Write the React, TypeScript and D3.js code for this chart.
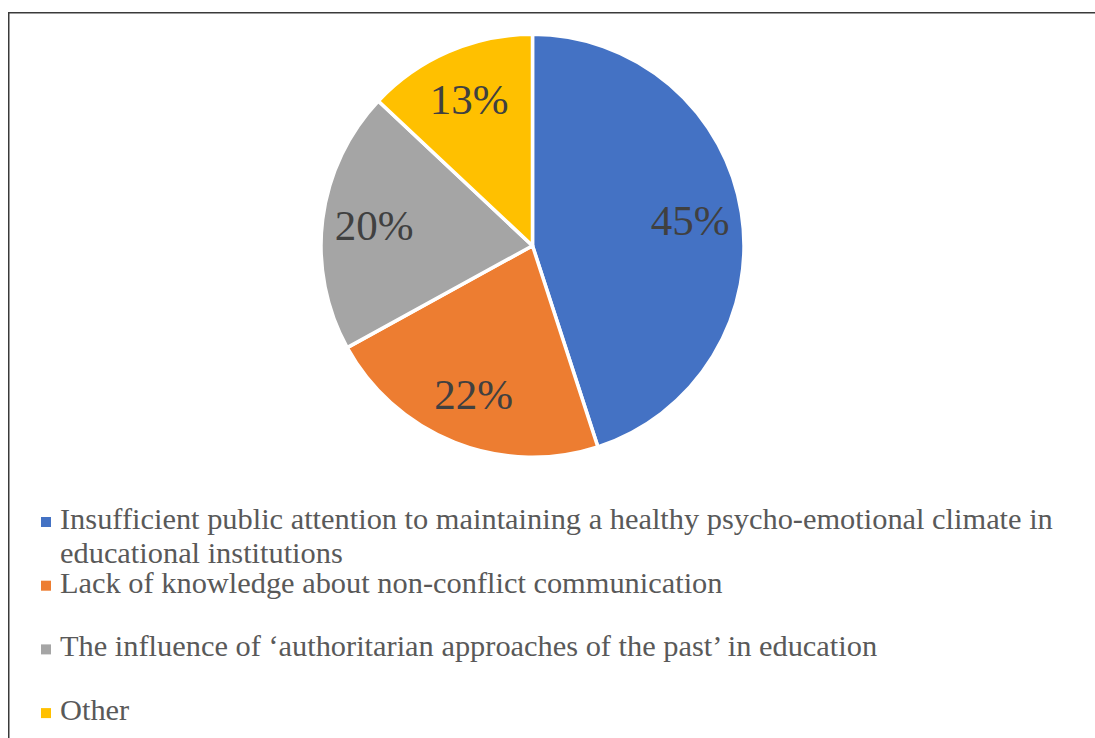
import React from "react";
import * as d3 from "d3";

const categories = [
  "Insufficient public attention to maintaining a healthy psycho-emotional climate in educational institutions",
  "Lack of knowledge about non-conflict communication",
  "The influence of ‘authoritarian approaches of the past’ in education",
  "Other",
];
const values = [45, 22, 20, 13];
const colors = ["#4472C4", "#ED7D31", "#A5A5A5", "#FFC000"];

const W = 1095;
const H = 738;
const cx = 532.5;
const cy = 245.75;
const R = 211.5;
const FONT = "Times New Roman, Liberation Serif, Tinos, serif";
const legendFont = 30.4;
const legendMaxW = 1020;

function wrap(text: string, size: number, maxW: number): string[] {
  const canvas = document.createElement("canvas");
  const ctx = canvas.getContext("2d")!;
  ctx.font = `${size}px "Liberation Serif", serif`;
  const words = text.split(" ");
  const lines: string[] = [];
  let cur = "";
  for (const w of words) {
    const t = cur ? cur + " " + w : w;
    if (ctx.measureText(t).width > maxW && cur) {
      lines.push(cur);
      cur = w;
    } else cur = t;
  }
  if (cur) lines.push(cur);
  return lines;
}

export default function App() {
  const pie = d3.pie<number>().sort(null).value((d) => d);
  const arcs = pie(values);
  const arc = d3.arc<d3.PieArcDatum<number>>().innerRadius(0).outerRadius(R);
  const labelArc = d3
    .arc<d3.PieArcDatum<number>>()
    .innerRadius(R * 0.755)
    .outerRadius(R * 0.755);
  const total = d3.sum(values);

  const legendY0 = 529;
  const entryStep = 63.7;
  const lineStep = 33.5;

  return (
    <svg
      width={W}
      height={H}
      style={{ position: "absolute", left: 0, top: 0, background: "#fff" }}
    >
      <rect x={0} y={0} width={W} height={H} fill="#fff" />
      <rect
        x={8.75}
        y={12.75}
        width={W + 20}
        height={H + 20}
        fill="none"
        stroke="#3a3a3a"
        strokeWidth={1.5}
      />
      <g transform={`translate(${cx},${cy})`}>
        {arcs.map((a, i) => (
          <path
            key={i}
            d={arc(a) || ""}
            fill={colors[i]}
            stroke="#fff"
            strokeWidth={3.5}
            strokeLinejoin="round"
          />
        ))}
        {arcs.map((a, i) => {
          const [x, y] = labelArc.centroid(a);
          return (
            <text
              key={i}
              x={x}
              y={y}
              dy="0.34em"
              textAnchor="middle"
              style={{ fontFamily: FONT, fontSize: 43 }}
              fill="#404040"
            >
              {Math.round((values[i] / total) * 100)}%
            </text>
          );
        })}
      </g>
      <g>
        {categories.map((c, i) => {
          const lines = wrap(c, legendFont, legendMaxW);
          const y = legendY0 + i * entryStep;
          return (
            <g key={i}>
              <rect x={41} y={y - 12} width={10} height={10} fill={colors[i]} />
              {lines.map((l, j) => (
                <text
                  key={j}
                  x={60}
                  y={y + j * lineStep}
                  style={{ fontFamily: FONT, fontSize: legendFont }}
                  fill="#595959"
                >
                  {l}
                </text>
              ))}
            </g>
          );
        })}
      </g>
    </svg>
  );
}
